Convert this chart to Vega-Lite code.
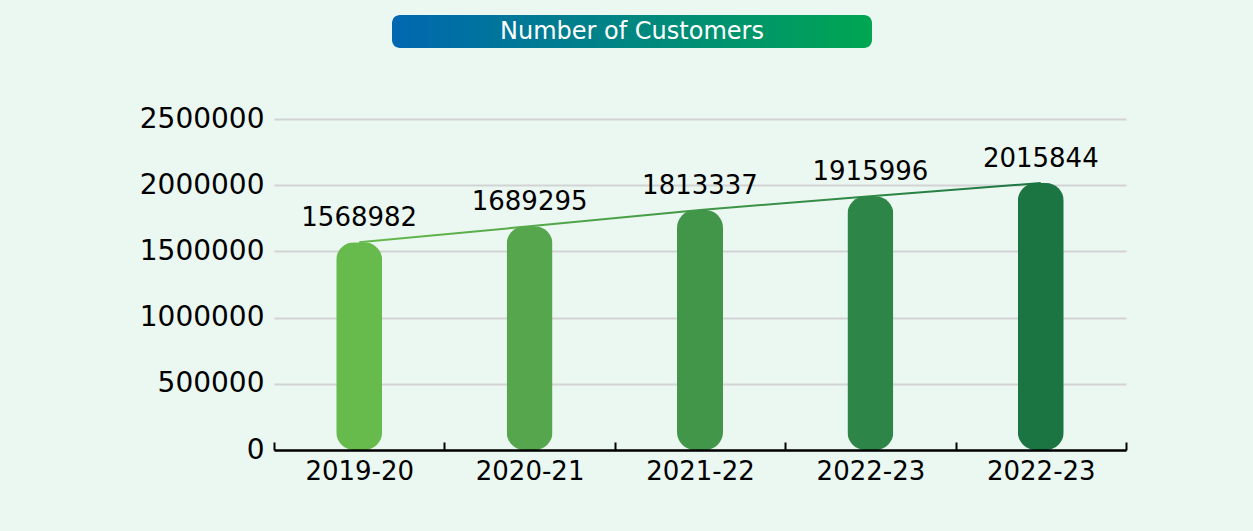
{
  "$schema": "https://vega.github.io/schema/vega-lite/v6.json",
  "background": "#EBF7F1",
  "padding": {"left": 139, "top": 15, "right": 128, "bottom": 48},
  "config": {"view": {"stroke": null}, "font": "DejaVu Sans"},
  "bounds": "flush",
  "spacing": 104,
  "vconcat": [
    {
      "spacing": 0,
      "bounds": "flush",
      "hconcat": [
        {
          "width": 118,
          "height": 33,
          "data": {"values": []},
          "mark": {"type": "rect", "opacity": 0},
          "encoding": {}
        },
        {
          "width": 480,
          "height": 33,
          "data": {"values": [{"title": "Number of Customers"}]},
          "layer": [
            {
              "mark": {
                "type": "rect",
                "cornerRadius": 8,
                "fill": {
                  "gradient": "linear",
                  "x1": 0, "y1": 0, "x2": 1, "y2": 0,
                  "stops": [
                    {"offset": 0, "color": "#0067B1"},
                    {"offset": 1, "color": "#00A651"}
                  ]
                }
              },
              "encoding": {
                "x": {"datum": 0, "type": "quantitative", "scale": {"domain": [0, 1]}, "axis": null},
                "x2": {"datum": 1},
                "y": {"datum": 0, "type": "quantitative", "scale": {"domain": [0, 1]}, "axis": null},
                "y2": {"datum": 1}
              }
            },
            {
              "mark": {"type": "text", "color": "white", "fontSize": 24, "baseline": "middle"},
              "encoding": {
                "text": {"field": "title"},
                "x": {"datum": 0.5, "type": "quantitative"},
                "y": {"datum": 0.5, "type": "quantitative"}
              }
            }
          ]
        }
      ]
    },
    {
      "width": 852,
      "height": 331,
      "data": {
        "values": [
          {"slot": 1, "period": "2019-20", "customers": 1568982},
          {"slot": 2, "period": "2020-21", "customers": 1689295},
          {"slot": 3, "period": "2021-22", "customers": 1813337},
          {"slot": 4, "period": "2022-23", "customers": 1915996},
          {"slot": 5, "period": "2022-23", "customers": 2015844}
        ]
      },
      "encoding": {
        "x": {
          "field": "slot",
          "type": "ordinal",
          "scale": {"paddingInner": 0, "paddingOuter": 0},
          "axis": {
            "title": null,
            "labelAngle": 0,
            "labelExpr": "['2019-20','2020-21','2021-22','2022-23','2022-23'][datum.value - 1]",
            "labelFontSize": 26,
            "labelColor": "black",
            "labelPadding": 16,
            "domainColor": "black",
            "domainWidth": 2.5,
            "tickBand": "extent",
            "tickColor": "black",
            "tickWidth": 2,
            "tickSize": -8,
            "zindex": 1
          }
        },
        "y": {
          "field": "customers",
          "type": "quantitative",
          "scale": {"domain": [0, 2500000], "nice": false},
          "axis": {
            "title": null,
            "values": [0, 500000, 1000000, 1500000, 2000000, 2500000],
            "format": "d",
            "domain": false,
            "ticks": false,
            "grid": true,
            "gridColor": "#D2D3D5",
            "gridWidth": 2,
            "labelFontSize": 28,
            "labelColor": "black",
            "labelPadding": 10
          }
        }
      },
      "layer": [
        {
          "mark": {"type": "bar", "width": 46, "cornerRadius": 18},
          "encoding": {
            "color": {
              "field": "slot",
              "type": "nominal",
              "scale": {"range": ["#67BA4C", "#55A64D", "#42964A", "#2D8647", "#1B7543"]},
              "legend": null
            }
          }
        },
        {
          "mark": {
            "type": "line",
            "strokeWidth": 2,
            "color": {
              "gradient": "linear",
              "x1": 0, "y1": 0, "x2": 1, "y2": 0,
              "stops": [
                {"offset": 0, "color": "#67BA4C"},
                {"offset": 1, "color": "#1B7543"}
              ]
            }
          },
          "encoding": {}
        },
        {
          "mark": {"type": "text", "fontSize": 26, "baseline": "alphabetic", "dy": -16, "color": "black"},
          "encoding": {
            "text": {"field": "customers", "type": "quantitative", "format": "d"}
          }
        }
      ]
    }
  ]
}
